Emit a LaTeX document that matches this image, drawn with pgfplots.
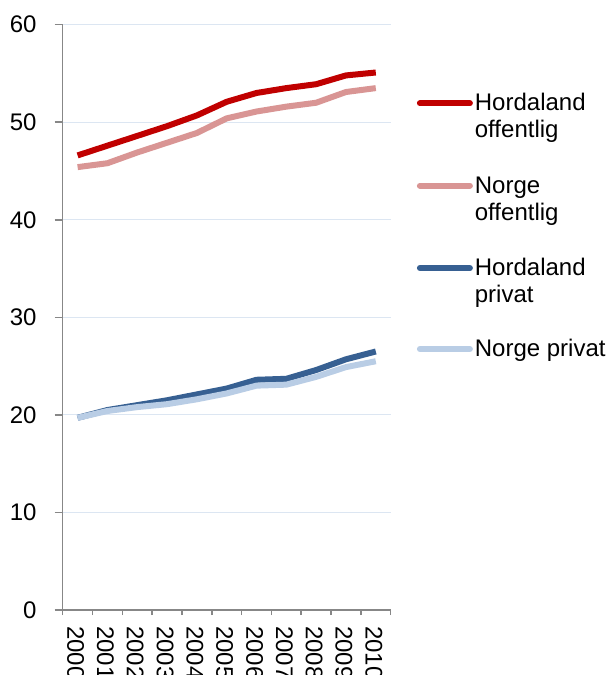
\documentclass[border=0pt]{standalone}
\usepackage{pgfplots}
\pgfplotsset{compat=1.18}
\usepackage{fontspec}
\setmainfont{Liberation Sans}
\definecolor{hoff}{HTML}{C00000}
\definecolor{noff}{HTML}{D99594}
\definecolor{hpriv}{HTML}{376092}
\definecolor{npriv}{HTML}{B9CDE5}
\definecolor{gridc}{HTML}{DCE6F2}
\definecolor{axc}{HTML}{878787}
\begin{document}
\begin{tikzpicture}[font=\fontsize{24}{27}\selectfont]
\begin{axis}[
  scale only axis,
  width=328pt, height=585.3pt,
  xmin=-0.5, xmax=10.5,
  ymin=0, ymax=60,
  ytick={0,10,...,60},
  xtick={0,...,10},
  xticklabels={2000,2001,2002,2003,2004,2005,2006,2007,2008,2009,2010},
  minor xtick={-0.5,0.5,...,10.5},
  major x tick style={draw=none},
  axis lines*=left,
  axis line style={axc, line width=1.5pt},
  tick style={axc, line width=1.5pt},
  tick align=outside,
  major tick length=8pt,
  minor tick length=5pt,
  ymajorgrids,
  grid style={gridc, line width=1pt},
  /pgf/number format/assume math mode=true,
  yticklabel style={inner sep=0pt, xshift=-18pt},
  xticklabel style={yshift=-8pt, xshift=-2pt, rotate=-90, anchor=west, inner sep=0pt},
  legend cell align=left,
  legend style={draw=none, fill=none, at={(1,1)}, anchor=north west,
    xshift=23pt, yshift=-63pt, row sep=58pt,
    cells={anchor=base west},
    nodes={inner sep=2pt},
    /tikz/every even column/.style={column sep=6pt}},
  legend image code/.code={\draw[#1, line cap=round] (0pt,7.5pt) -- (50pt,7.5pt);},
  every axis plot/.append style={line width=6pt, line join=round},
]
\addplot[hoff] coordinates {(0,46.6)(1,47.6)(2,48.6)(3,49.6)(4,50.7)(5,52.1)(6,53.0)(7,53.5)(8,53.9)(9,54.8)(10,55.1)};
\addlegendentry{\begin{tabular}[t]{@{}l@{}}Hordaland\\offentlig\end{tabular}}
\addplot[noff] coordinates {(0,45.4)(1,45.8)(2,46.9)(3,47.9)(4,48.9)(5,50.4)(6,51.1)(7,51.6)(8,52.0)(9,53.1)(10,53.5)};
\addlegendentry{\begin{tabular}[t]{@{}l@{}}Norge\\offentlig\end{tabular}}
\addplot[hpriv] coordinates {(0,19.7)(1,20.5)(2,21.0)(3,21.5)(4,22.1)(5,22.7)(6,23.6)(7,23.7)(8,24.6)(9,25.7)(10,26.5)};
\addlegendentry{\begin{tabular}[t]{@{}l@{}}Hordaland\\privat\end{tabular}}
\addplot[npriv] coordinates {(0,19.7)(1,20.4)(2,20.8)(3,21.1)(4,21.6)(5,22.2)(6,23.0)(7,23.1)(8,23.9)(9,24.9)(10,25.5)};
\addlegendentry{Norge privat}
\end{axis}
\pgfresetboundingbox
\useasboundingbox (-62.7pt,-65pt) rectangle (548.3pt,610pt);
\end{tikzpicture}
\end{document}
